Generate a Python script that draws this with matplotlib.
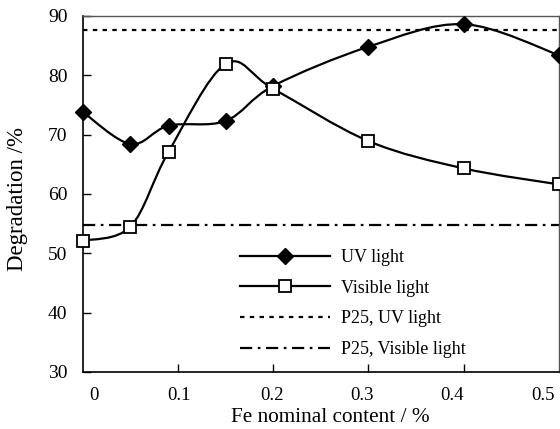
import matplotlib
matplotlib.use("Agg")
import matplotlib.pyplot as plt
import numpy as np
from matplotlib.path import Path
from matplotlib.patches import PathPatch
from matplotlib.lines import Line2D

plt.rcParams['font.family'] = ['Liberation Serif', 'DejaVu Serif']

# Fe content (%) and degradation (%)
fe = [0, 0.05, 0.09, 0.15, 0.2, 0.3, 0.4, 0.5]
uv = [73.8, 68.4, 71.5, 72.3, 78.2, 84.8, 88.6, 83.4]
vis = [52.1, 54.5, 67.1, 81.9, 77.7, 68.9, 64.3, 61.6]
p25_uv = 87.7
p25_vis = 54.8

xtick_labels = ["0", "0.1", "0.2", "0.3", "0.4", "0.5"]
xlabel_pos = [0.012, 0.101, 0.199, 0.293, 0.388, 0.483]


def smooth_path(x, y):
    # Catmull-Rom style bezier, like a spreadsheet "smoothed line"
    p = np.column_stack([x, y])
    n = len(p)
    verts = [p[0]]
    codes = [Path.MOVETO]
    for i in range(n - 1):
        p0 = p[i - 1] if i > 0 else p[i]
        p3 = p[i + 2] if i + 2 < n else p[i + 1]
        c1 = p[i] + (p[i + 1] - p0) / 6
        c2 = p[i + 1] - (p3 - p[i]) / 6
        verts += [c1, c2, p[i + 1]]
        codes += [Path.CURVE4] * 3
    return Path(verts, codes)


fig = plt.figure(figsize=(5.6, 4.29), dpi=100)
ax = fig.add_axes([0.148, 0.133, 0.850, 0.830])

ax.axhline(p25_uv, color='k', lw=1.6, dashes=(2, 2.4), zorder=1)
ax.axhline(p25_vis, color='k', lw=1.6, dashes=(5.5, 2.5, 1.2, 2.5), zorder=1)

for yy in (uv, vis):
    ax.add_patch(PathPatch(smooth_path(fe, yy), fc='none', ec='k', lw=1.6,
                           zorder=2, clip_on=False))

ax.plot(fe, uv, ls='none', marker='D', ms=8.5, mfc='k', mec='k', zorder=3,
        clip_on=False)
ax.plot(fe, vis, ls='none', marker='s', ms=8.5, mfc='white', mec='k',
        mew=1.3, zorder=3, clip_on=False)

ax.set_xlim(0, 0.5)
ax.set_ylim(30, 90)
ax.set_yticks(range(30, 91, 10))
ax.set_xticks([0.1, 0.2, 0.3, 0.4])
ax.set_xticklabels([])
ax.set_xticks(xlabel_pos, minor=True)
ax.set_xticklabels(xtick_labels, minor=True)
ax.tick_params(axis='x', which='major', direction='in', length=6, width=1)
ax.tick_params(axis='x', which='minor', length=0, pad=11, labelsize=13.5)
ax.tick_params(axis='y', direction='in', length=6, width=1, pad=11,
               labelsize=14)

for s in ('left', 'bottom'):
    ax.spines[s].set_linewidth(1.2)
for s in ('top', 'right'):
    ax.spines[s].set_color('#555555')
    ax.spines[s].set_linewidth(1.0)

ax.set_xlabel("Fe nominal content / %", fontsize=15.3)
ax.set_ylabel("Degradation /%", fontsize=16.5)
ax.xaxis.set_label_coords(0.52, -0.1)
ax.yaxis.set_label_coords(-0.116, 0.486)

handles = [
    Line2D([], [], color='k', lw=1.6, marker='D', ms=8.5, mfc='k'),
    Line2D([], [], color='k', lw=1.6, marker='s', ms=8.5, mfc='white', mew=1.3),
    Line2D([], [], color='k', lw=1.6, dashes=(2, 2.4)),
    Line2D([], [], color='k', lw=1.6, dashes=(5.5, 2.5, 1.2, 2.5)),
]
labels = ["UV light", "Visible light", "P25, UV light", "P25, Visible light"]
ax.legend(handles, labels, loc='center left', bbox_to_anchor=(0.33, 0.192),
          frameon=False, fontsize=13, handlelength=5.0, handletextpad=0.6,
          labelspacing=0.75, borderpad=0, borderaxespad=0)

fig.savefig("out.png", dpi=100)
